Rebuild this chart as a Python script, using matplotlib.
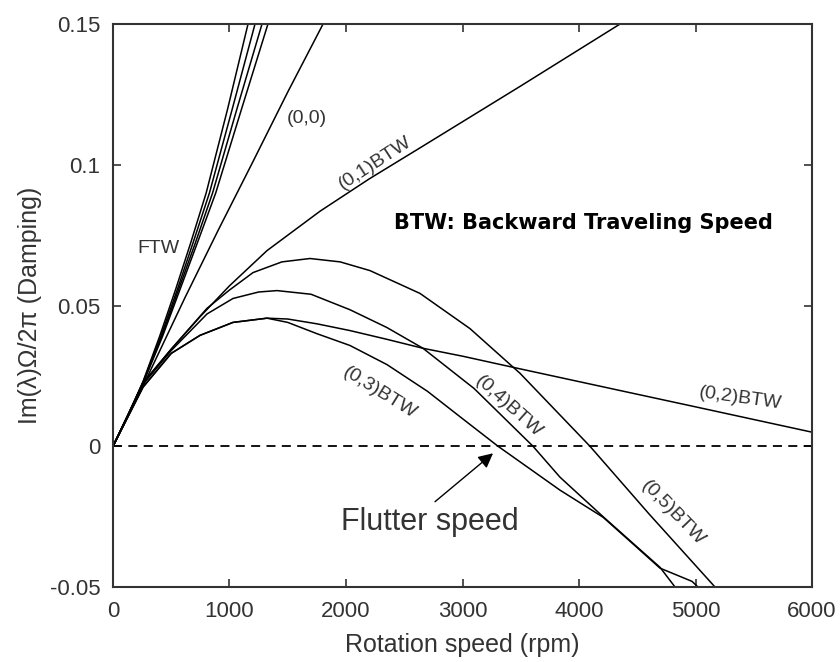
import matplotlib
matplotlib.use('Agg')
import matplotlib.pyplot as plt

plt.rcParams['font.family'] = ['Liberation Sans', 'DejaVu Sans']

# ---- data ----
ftw_y = [0, 0.011, 0.023, 0.039, 0.056, 0.072, 0.09, 0.12, 0.15]
ftw_a_x = [0, 130, 258, 400, 540, 665, 800, 985, 1159]
ftw_b_x = [0, 130, 260, 410, 555, 685, 828, 1025, 1219]
ftw_c_x = [0, 130, 262, 418, 566, 705, 855, 1065, 1279]
ftw_d_x = [0, 130, 265, 425, 578, 722, 882, 1105, 1330]

m00_x = [0, 258, 618, 900, 1200, 1502, 1803]
m00_y = [0, 0.0214, 0.0528, 0.0765, 0.101, 0.126, 0.15]

m01_x = [0, 258, 500, 747, 1000, 1322, 1777, 2200, 2635, 3500, 4352]
m01_y = [0, 0.0225, 0.0345, 0.046, 0.057, 0.0695, 0.0835, 0.0950, 0.106, 0.128, 0.15]

m05_x = [0, 258, 500, 807, 1000, 1202, 1450, 1691, 1950, 2206, 2635, 3064, 3494, 4094, 4600, 5167]
m05_y = [0, 0.0225, 0.0345, 0.049, 0.0555, 0.0617, 0.0655, 0.0667, 0.0655, 0.0624, 0.0543, 0.0418, 0.0259, 0, -0.024, -0.05]

m04_x = [0, 258, 500, 807, 1030, 1250, 1408, 1700, 2034, 2350, 2661, 3100, 3605, 3837, 4206, 4450, 4695, 4824]
m04_y = [0, 0.022, 0.034, 0.047, 0.0525, 0.0548, 0.0553, 0.054, 0.0485, 0.0422, 0.0348, 0.0205, 0, -0.011, -0.025, -0.034, -0.043, -0.05]

m03_x = [0, 258, 500, 747, 1030, 1322, 1500, 1750, 2034, 2352, 2700, 3000, 3305, 3837, 4206, 4450, 4695, 4970, 5021]
m03_y = [0, 0.021, 0.033, 0.0394, 0.044, 0.0455, 0.044, 0.040, 0.0358, 0.029, 0.0195, 0.0098, 0, -0.0156, -0.0252, -0.0342, -0.0433, -0.048, -0.05]

m02_x = [0, 258, 500, 747, 1030, 1322, 1500, 1750, 2034, 2350, 2661, 3000, 3494, 4352, 5000, 6000]
m02_y = [0, 0.021, 0.033, 0.0394, 0.044, 0.0455, 0.0452, 0.0435, 0.0411, 0.038, 0.0348, 0.032, 0.0275, 0.0198, 0.014, 0.005]

x_ticks = [0, 1000, 2000, 3000, 4000, 5000, 6000]
y_ticks = [-0.05, 0, 0.05, 0.1, 0.15]
y_tick_labels = ['-0.05', '0', '0.05', '0.1', '0.15']

# ---- figure ----
fig = plt.figure(figsize=(8.4, 6.62), dpi=100)
ax = fig.add_axes([0.1345, 0.1133, 0.8322, 0.8504])

lw = 1.1
for xs in (ftw_a_x, ftw_b_x, ftw_c_x, ftw_d_x):
    ax.plot(xs, ftw_y, color='black', lw=lw)
for xs, ys in ((m00_x, m00_y), (m01_x, m01_y), (m05_x, m05_y),
               (m04_x, m04_y), (m03_x, m03_y), (m02_x, m02_y)):
    ax.plot(xs, ys, color='black', lw=lw)

ax.axhline(0, color='black', lw=1.3, ls=(0, (5, 3.5)))

ax.set_xlim(0, 6000)
ax.set_ylim(-0.05, 0.15)
ax.set_xticks(x_ticks)
ax.set_xticklabels([str(v) for v in x_ticks])
ax.set_yticks(y_ticks)
ax.set_yticklabels(y_tick_labels)
ax.tick_params(direction='in', length=6, width=1.2, top=True, right=True,
               labelsize=16, colors='#333333', pad=9)
ax.tick_params(axis='x', pad=10)
for s in ax.spines.values():
    s.set_linewidth(1.5)
    s.set_color('#333333')

ax.set_xlabel('Rotation speed (rpm)', fontsize=18, color='#333333', labelpad=8)
ax.set_ylabel('Im(λ)Ω/2π (Damping)', fontsize=18, color='#333333', labelpad=6)

tc = '#333333'
ax.text(1665, 0.1163, '(0,0)', fontsize=14, color=tc, ha='center', va='center')
ax.text(386, 0.0702, 'FTW', fontsize=14, color=tc, ha='center', va='center')
ax.text(2249, 0.1007, '(0,1)BTW', fontsize=14, color=tc, ha='center', va='center',
        rotation=33, rotation_mode='anchor')
ax.text(5382, 0.017, '(0,2)BTW', fontsize=14, color=tc, ha='center', va='center',
        rotation=-8, rotation_mode='anchor')
ax.text(2292, 0.0191, '(0,3)BTW', fontsize=14, color=tc, ha='center', va='center',
        rotation=-32, rotation_mode='anchor')
ax.text(3391, 0.0142, '(0,4)BTW', fontsize=14, color=tc, ha='center', va='center',
        rotation=-42, rotation_mode='anchor')
ax.text(4807, -0.0238, '(0,5)BTW', fontsize=14, color=tc, ha='center', va='center',
        rotation=-46, rotation_mode='anchor')
ax.text(4034, 0.0794, 'BTW: Backward Traveling Speed', fontsize=15,
        family='DejaVu Sans', weight='bold', color='black', ha='center', va='center')
ax.text(2721, -0.027, 'Flutter speed', fontsize=22, color=tc, ha='center', va='center')
ax.annotate('', xy=(3262, -0.0025), xytext=(2764, -0.0197),
            arrowprops=dict(arrowstyle='-|>', color='black', lw=1,
                            mutation_scale=22, shrinkA=0, shrinkB=0))

fig.savefig('out.png', dpi=100)
